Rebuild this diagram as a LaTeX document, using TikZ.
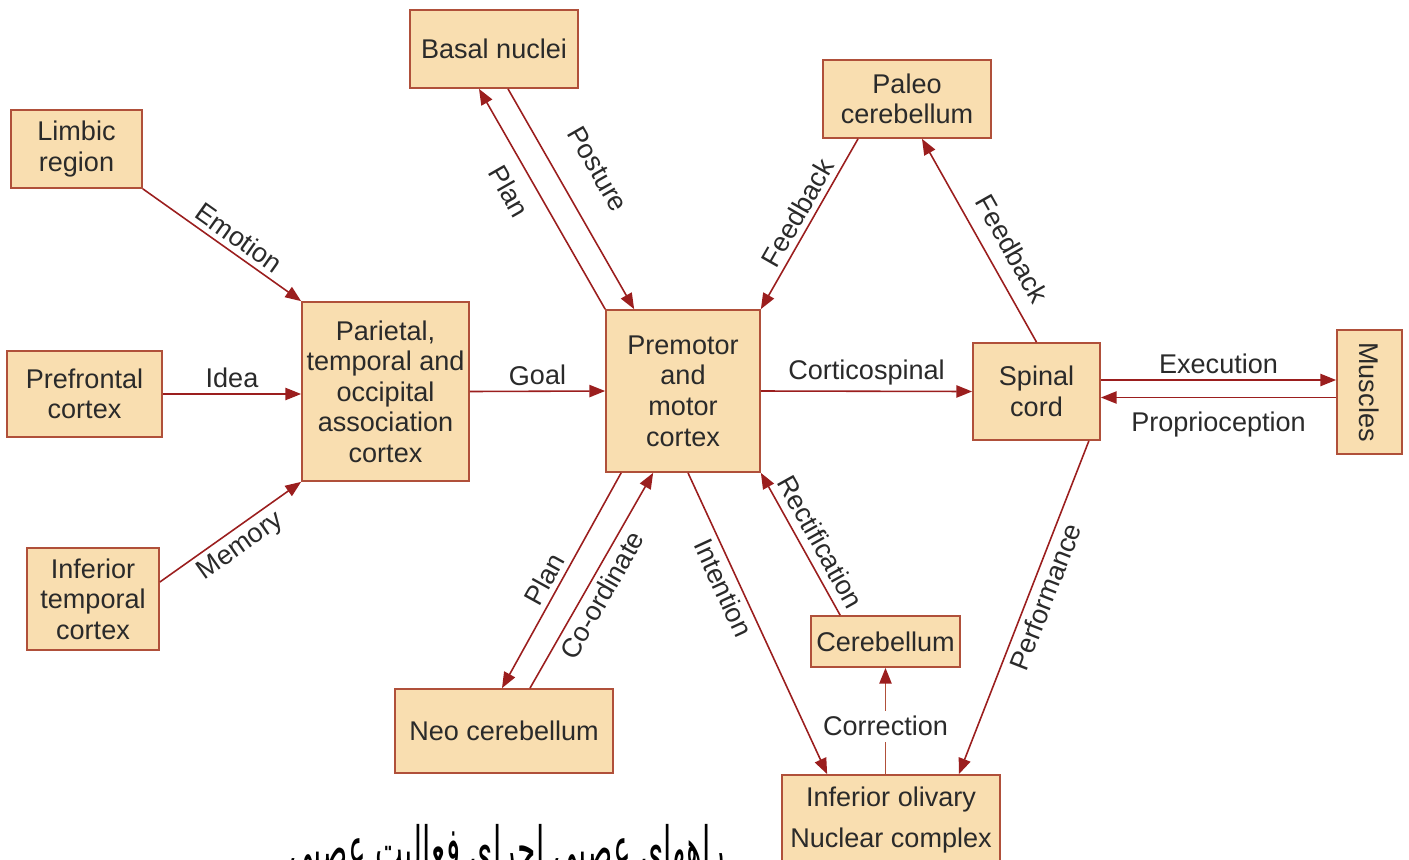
\documentclass[tikz,border=0pt]{standalone}
\usepackage{fontspec}
\setmainfont{Liberation Sans}
\newfontfamily\arabicfont[Script=Arabic]{DejaVu Sans}
\TeXXeTstate=1
\usetikzlibrary{arrows.meta,calc}
\definecolor{boxfill}{HTML}{F9DEB0}
\definecolor{boxline}{HTML}{B0503A}
\definecolor{arr}{HTML}{9B1E1E}
\definecolor{txt}{HTML}{2A2A2A}
\tikzset{
  box/.style={draw=boxline, line width=1pt, fill=boxfill, text=txt, align=center, inner sep=0pt,
    font=\fontsize{15.4}{17.4}\selectfont},
  conn/.style={draw=arr, line width=0.9pt, -{Triangle[length=9pt,width=7pt]}},
  lbl/.style={text=txt, font=\fontsize{15.4}{17.4}\selectfont, inner sep=3pt, sloped},
}
\begin{document}
\begin{tikzpicture}[x=0.02cm,y=-0.02cm]
\useasboundingbox (0,0) rectangle (1409,859);
% nodes
\node[box, minimum width=3.36cm, minimum height=1.56cm] (bn) at (494,49) {Basal nuclei};
\node[box, minimum width=2.62cm, minimum height=1.56cm] (lr) at (76.5,149) {Limbic\\region};
\node[box, minimum width=3.36cm, minimum height=1.56cm] (pc) at (907,99) {Paleo\\cerebellum};
\node[box, minimum width=3.34cm, minimum height=3.58cm] (par) at (385.5,391.5) {Parietal,\\temporal and\\occipital\\association\\cortex};
\node[box, minimum width=3.10cm, minimum height=1.72cm] (pf) at (84.5,394) {Prefrontal\\cortex};
\node[box, minimum width=2.64cm, minimum height=2.04cm] (it) at (93,599) {Inferior\\temporal\\cortex};
\node[box, minimum width=3.08cm, minimum height=3.24cm] (pm) at (683,391) {Premotor\\and\\motor\\cortex};
\node[box, minimum width=2.54cm, minimum height=1.94cm] (sc) at (1036.5,391.5) {Spinal\\cord};
\node[box, minimum width=1.30cm, minimum height=2.48cm] (mu) at (1369.5,392) {\rotatebox{-90}{Muscles}};
\node[box, minimum width=2.98cm, minimum height=1.02cm] (cb) at (885.5,641.5) {Cerebellum};
\node[box, minimum width=4.36cm, minimum height=1.68cm] (nc) at (504,731) {Neo cerebellum};
\node[box, minimum width=4.36cm, minimum height=1.80cm, font=\fontsize{15.4}{22.8}\selectfont] (io) at (891,820) {Inferior olivary\\Nuclear complex};

% connectors
\draw[conn] (lr.south east) -- node[lbl, above, pos=0.55] {Emotion} (par.north west);
\draw[conn] (pf.east) -- node[lbl, above] {Idea} (pf.east -| par.west);
\draw[conn] ([yshift=0.34cm]it.east) -- node[lbl, below, pos=0.5] {Memory} (par.south west);
\draw[conn] (par.east) -- node[lbl, above] {Goal} (pm.west);
\draw[conn] (pm.east) -- node[lbl, above] {Corticospinal} (sc.west);
\coordinate (ex) at ([yshift=0.23cm]sc.east);
\coordinate (pr) at ([yshift=-0.12cm]sc.east);
\draw[conn] (ex) -- node[lbl, above] {Execution} (ex -| mu.west);
\draw[conn] (pr -| mu.west) -- node[lbl, below, inner sep=8pt] {Proprioception} (pr);
\draw[conn] (pm.north west) -- node[lbl, below, pos=0.59, inner sep=8pt] {Plan} ([xshift=-0.3cm]bn.south);
\draw[conn] ([xshift=0.28cm]bn.south) -- node[lbl, above, pos=0.45, inner sep=16pt] {Posture} ([xshift=0.58cm]pm.north west);
\draw[conn] ([xshift=-0.98cm]pc.south) -- node[lbl, above, pos=0.48] {Feedback} (pm.north east);
\draw[conn] (sc.north) -- node[lbl, above, pos=0.40, inner sep=8pt] {Feedback} ([xshift=0.3cm]pc.south);
\draw[conn] ([xshift=0.32cm]pm.south west) -- node[lbl, above, pos=0.53] {Plan} ([xshift=-0.04cm]nc.north);
\draw[conn] ([xshift=0.52cm]nc.north) -- node[lbl, below, pos=0.47] {Co-ordinate} ([xshift=0.96cm]pm.south west);
\draw[conn] ([xshift=0.1cm]pm.south) -- node[lbl, below, pos=0.36] {Intention} ([xshift=0.92cm]io.north west);
\draw[conn] ([xshift=0.6cm]cb.north west) -- node[lbl, above, pos=0.45, inner sep=4.5pt] {Rectification} (pm.south east);
\draw[conn] ([xshift=-0.24cm]sc.south east) -- node[lbl, below, pos=0.45] {Performance} ([xshift=-0.84cm]io.north east);
\draw[conn, draw=boxline, -{Triangle[length=9pt,width=7pt,color=arr]}] (cb.south |- io.north) -- node[lbl, fill=white, sloped=false, pos=0.45] {Correction} (cb.south);

% caption (cut off at the bottom)
\node[anchor=base east, text=black, inner sep=0pt] (cap) at (725,869) {\scalebox{0.65}[1.3]{\fontsize{26}{30}\selectfont\arabicfont\beginR راههای عصبی اجرای فعالیت عصبی\endR}};
\end{tikzpicture}
\end{document}
